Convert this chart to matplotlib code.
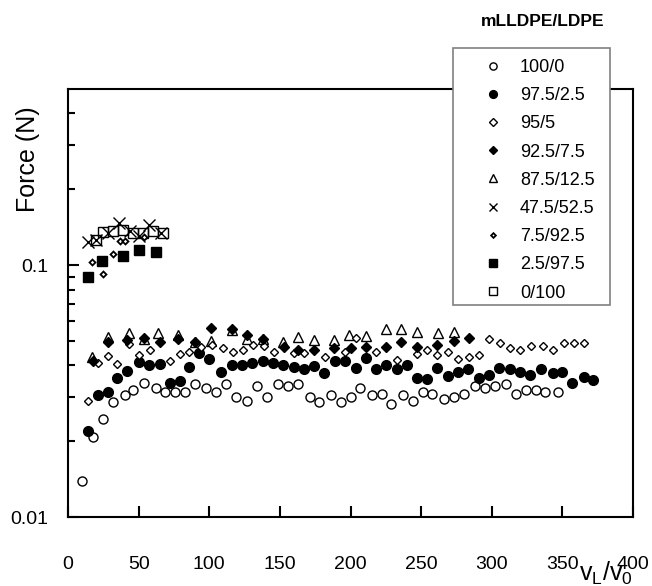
import matplotlib
matplotlib.use('Agg')
import matplotlib.pyplot as plt
from matplotlib.patches import Rectangle
from matplotlib.ticker import FixedLocator, NullFormatter

plt.rcParams['font.family'] = ['Liberation Sans', 'DejaVu Sans']

# 100/0
x_100 = [10, 18, 25, 32, 40, 46, 54, 62, 69, 76, 83, 90, 98, 105, 112, 119, 127, 134,
         141, 149, 156, 163, 171, 178, 186, 193, 200, 207, 215, 222, 229, 237, 244, 251,
         258, 266, 273, 280, 288, 295, 302, 310, 317, 324, 331, 338, 347]
y_100 = [0.0139, 0.0207, 0.0245, 0.0286, 0.0305, 0.0319, 0.0340, 0.0325, 0.0313, 0.0313,
         0.0313, 0.0337, 0.0325, 0.0313, 0.0337, 0.0299, 0.0288, 0.0331, 0.0299, 0.0337,
         0.0331, 0.0337, 0.0299, 0.0286, 0.0305, 0.0286, 0.0299, 0.0325, 0.0305, 0.0308,
         0.0281, 0.0305, 0.0289, 0.0313, 0.0308, 0.0294, 0.0299, 0.0308, 0.0331, 0.0325,
         0.0331, 0.0337, 0.0308, 0.0319, 0.0319, 0.0313, 0.0313]

# 97.5/2.5
x_975 = [14, 21, 28, 35, 42, 50, 57, 65, 72, 79, 86, 93, 100, 108, 116, 123, 130, 138,
         145, 152, 160, 167, 174, 181, 189, 196, 204, 211, 218, 225, 233, 240, 247, 254,
         261, 269, 276, 283, 291, 298, 305, 313, 320, 327, 335, 343, 350, 357, 365, 372]
y_975 = [0.0219, 0.0305, 0.0313, 0.0356, 0.0380, 0.0412, 0.0401, 0.0405, 0.0340, 0.0347,
         0.0394, 0.0447, 0.0424, 0.0376, 0.0401, 0.0401, 0.0409, 0.0416, 0.0409, 0.0401,
         0.0394, 0.0387, 0.0397, 0.0373, 0.0416, 0.0416, 0.0390, 0.0428, 0.0387, 0.0401,
         0.0387, 0.0401, 0.0356, 0.0353, 0.0390, 0.0363, 0.0376, 0.0387, 0.0356, 0.0366,
         0.0390, 0.0387, 0.0376, 0.0366, 0.0387, 0.0373, 0.0376, 0.0340, 0.0359, 0.0350]

# 95/5
x_95 = [14, 21, 28, 35, 43, 50, 58, 72, 79, 86, 94, 102, 110, 117, 124, 131, 139, 146,
        160, 167, 182, 196, 204, 218, 233, 247, 254, 261, 269, 276, 284, 291, 298, 306,
        313, 320, 328, 336, 343, 351, 358, 365]
y_95 = [0.0289, 0.0409, 0.0436, 0.0405, 0.0486, 0.0439, 0.0460, 0.0416, 0.0443, 0.0452,
        0.0473, 0.0481, 0.0469, 0.0452, 0.0460, 0.0481, 0.0477, 0.0452, 0.0447, 0.0447,
        0.0432, 0.0452, 0.0513, 0.0452, 0.0420, 0.0443, 0.0460, 0.0439, 0.0452, 0.0424,
        0.0432, 0.0439, 0.0509, 0.0490, 0.0469, 0.0460, 0.0477, 0.0477, 0.0460, 0.0490,
        0.0490, 0.0490]

# 92.5/7.5
x_925 = [18, 28, 42, 54, 65, 78, 90, 101, 116, 127, 138, 153, 163, 174, 188, 200, 211,
         225, 236, 247, 261, 273, 284]
y_925 = [0.0416, 0.0495, 0.0504, 0.0513, 0.0495, 0.0509, 0.0495, 0.0562, 0.0557, 0.0528,
         0.0509, 0.0473, 0.0460, 0.0460, 0.0469, 0.0469, 0.0473, 0.0473, 0.0495, 0.0473,
         0.0481, 0.0500, 0.0513]

# 87.5/12.5
x_875 = [17, 28, 43, 54, 64, 78, 90, 101, 116, 127, 138, 152, 163, 174, 188, 199, 211,
         225, 236, 247, 262, 273]
y_875 = [0.0432, 0.0518, 0.0537, 0.0509, 0.0537, 0.0528, 0.0495, 0.0500, 0.0552, 0.0509,
         0.0509, 0.0495, 0.0518, 0.0504, 0.0504, 0.0528, 0.0523, 0.0557, 0.0557, 0.0542,
         0.0537, 0.0542]

# 47.5/52.5
x_475 = [14, 20, 28, 36, 44, 50, 57, 66]
y_475 = [0.1234, 0.1256, 0.1339, 0.1468, 0.1364, 0.1304, 0.1441, 0.1339]

# 7.5/92.5
x_75 = [17, 25, 32, 37, 40, 54]
y_75 = [0.1028, 0.0921, 0.1106, 0.1245, 0.1245, 0.1291]

# 2.5/97.5
x_25 = [14, 24, 39, 50, 62]
y_25 = [0.0896, 0.1037, 0.1086, 0.1147, 0.1126]

# 0/100
x_0 = [20, 25, 32, 39, 46, 53, 60, 67]
y_0 = [0.1256, 0.1352, 0.1364, 0.1377, 0.1339, 0.1339, 0.1364, 0.1339]

fig = plt.figure(figsize=(6.52, 5.86), dpi=100)
ax = fig.add_axes([0.1043, 0.1177, 0.8666, 0.7304])

h = {}
h['87.5/12.5'], = ax.plot(x_875, y_875, '^', ms=7, mfc='white', mec='black', mew=1, zorder=2)
h['100/0'], = ax.plot(x_100, y_100, 'o', ms=6.5, mfc='white', mec='black', mew=1, zorder=3)
h['97.5/2.5'], = ax.plot(x_975, y_975, 'o', ms=7, color='black', zorder=3)
h['95/5'], = ax.plot(x_95, y_95, 'D', ms=4.5, mfc='white', mec='black', mew=1, zorder=3)
h['92.5/7.5'], = ax.plot(x_925, y_925, 'D', ms=5, color='black', zorder=4)
h['0/100'], = ax.plot(x_0, y_0, 's', ms=7, mfc='none', mec='black', mew=1, zorder=3)
h['47.5/52.5'], = ax.plot(x_475, y_475, 'x', ms=8, color='black', mew=1, zorder=4)
h['7.5/92.5'], = ax.plot(x_75, y_75, 'D', ms=3, mfc='white', mec='black', mew=1.3, zorder=4)
h['2.5/97.5'], = ax.plot(x_25, y_25, 's', ms=7, color='black', zorder=4)

ax.set_yscale('log')
ax.set_xlim(0, 400)
ax.set_ylim(0.01, 0.5)
ax.set_xticks(range(0, 401, 50))
ax.yaxis.set_major_locator(FixedLocator([0.01, 0.1]))
ax.set_yticklabels(['0.01', '0.1'])
minor = [0.02, 0.03, 0.04, 0.05, 0.06, 0.07, 0.08, 0.09, 0.2, 0.3, 0.4]
ax.yaxis.set_minor_locator(FixedLocator(minor))
ax.yaxis.set_minor_formatter(NullFormatter())
ax.tick_params(axis='x', direction='in', length=8, width=1.5, labelsize=14, pad=28)
ax.tick_params(axis='y', which='major', direction='in', length=8, width=1.5, labelsize=14, pad=14)
ax.tick_params(axis='y', which='minor', direction='in', length=5, width=1.5)
for s in ax.spines.values():
    s.set_linewidth(1.5)

fig.text(28 / 652, 1 - 159 / 586, 'Force (N)', rotation=90, ha='center', va='center', fontsize=18)
fig.text(606 / 652, 1 - 581 / 586, r'$\mathregular{v_L/v_0}$', ha='center', va='baseline', fontsize=18)

# legend box
box = Rectangle((453 / 652, 1 - 305 / 586), 157 / 652, 257 / 586, transform=fig.transFigure,
                facecolor='white', edgecolor='#808080', linewidth=1.2, zorder=4)
fig.patches.append(box)
fig.text(543 / 652, 1 - 22 / 586, 'mLLDPE/LDPE', ha='center', va='center',
         fontsize=12.5, fontweight='bold')

labels = ['100/0', '97.5/2.5', '95/5', '92.5/7.5', '87.5/12.5', '47.5/52.5',
          '7.5/92.5', '2.5/97.5', '0/100']
leg = fig.legend([h[k] for k in labels], labels, loc='upper left',
                 bbox_to_anchor=(482 / 652, 1 - 59 / 586), frameon=False,
                 fontsize=13, markerscale=0.8, handlelength=1.2, handletextpad=0.9,
                 labelspacing=0.62, borderpad=0, borderaxespad=0)
leg.set_zorder(5)

fig.savefig('out.png', dpi=100)
